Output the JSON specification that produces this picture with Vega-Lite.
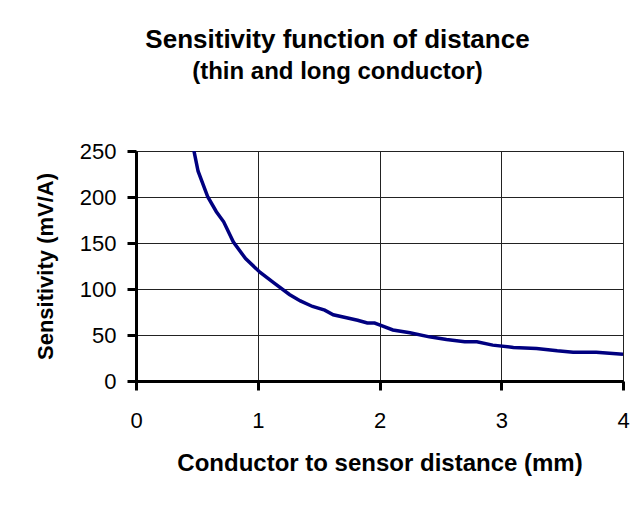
{
  "$schema": "https://vega.github.io/schema/vega-lite/v6.json",
  "autosize": {"type": "none"},
  "padding": {"left": 136, "top": 151, "right": 21, "bottom": 126},
  "width": 487,
  "height": 230,
  "background": "white",
  "title": {
    "text": "Sensitivity function of distance",
    "subtitle": "(thin and long conductor)",
    "anchor": "middle",
    "frame": "group",
    "dx": -42,
    "offset": 56,
    "font": "Liberation Sans",
    "fontSize": 26,
    "fontWeight": "bold",
    "color": "#000",
    "subtitleFont": "Liberation Sans",
    "subtitleFontSize": 24,
    "subtitleFontWeight": "bold",
    "subtitleColor": "#000",
    "subtitlePadding": 7
  },
  "data": {
    "values": [
      {"d": 0.476, "s": 250},
      {"d": 0.51, "s": 228},
      {"d": 0.59, "s": 200},
      {"d": 0.66, "s": 184},
      {"d": 0.72, "s": 173},
      {"d": 0.80, "s": 151},
      {"d": 0.90, "s": 133},
      {"d": 1.02, "s": 118},
      {"d": 1.13, "s": 107},
      {"d": 1.26, "s": 94},
      {"d": 1.35, "s": 87},
      {"d": 1.45, "s": 81},
      {"d": 1.55, "s": 77},
      {"d": 1.62, "s": 72},
      {"d": 1.72, "s": 69},
      {"d": 1.82, "s": 66},
      {"d": 1.90, "s": 63},
      {"d": 1.96, "s": 63},
      {"d": 2.00, "s": 61},
      {"d": 2.11, "s": 55.5},
      {"d": 2.25, "s": 52.5},
      {"d": 2.41, "s": 48},
      {"d": 2.55, "s": 45},
      {"d": 2.70, "s": 42.6},
      {"d": 2.80, "s": 42.6},
      {"d": 2.93, "s": 39},
      {"d": 3.10, "s": 36.5},
      {"d": 3.29, "s": 35.3},
      {"d": 3.46, "s": 32.8},
      {"d": 3.59, "s": 31.3},
      {"d": 3.78, "s": 31.3},
      {"d": 4.00, "s": 29.2}
    ]
  },
  "mark": {"type": "line", "color": "#000080", "strokeWidth": 3.5, "clip": true},
  "encoding": {
    "x": {
      "field": "d",
      "type": "quantitative",
      "scale": {"domain": [0, 4], "nice": false},
      "axis": {
        "title": "Conductor to sensor distance (mm)",
        "values": [0, 1, 2, 3, 4],
        "format": "d",
        "grid": true,
        "gridColor": "#222",
        "gridWidth": 1,
        "gridOpacity": 1,
        "domainColor": "#000",
        "domainWidth": 3,
        "tickColor": "#000",
        "tickWidth": 3,
        "tickSize": 9,
        "labelFont": "Liberation Sans",
        "labelFontSize": 22,
        "labelColor": "#000",
        "labelPadding": 20,
        "labelFlush": false,
        "titleFont": "Liberation Sans",
        "titleFontSize": 24,
        "titleFontWeight": "bold",
        "titleColor": "#000",
        "titlePadding": 20
      }
    },
    "y": {
      "field": "s",
      "type": "quantitative",
      "scale": {"domain": [0, 250], "nice": false},
      "axis": {
        "title": "Sensitivity (mV/A)",
        "values": [0, 50, 100, 150, 200, 250],
        "grid": true,
        "gridColor": "#222",
        "gridWidth": 1,
        "gridOpacity": 1,
        "domainColor": "#000",
        "domainWidth": 3,
        "tickColor": "#000",
        "tickWidth": 3,
        "tickSize": 9,
        "labelFont": "Liberation Sans",
        "labelFontSize": 22,
        "labelColor": "#000",
        "labelPadding": 11,
        "labelFlush": false,
        "titleFont": "Liberation Sans",
        "titleFontSize": 22,
        "titleFontWeight": "bold",
        "titleColor": "#000",
        "titlePadding": 22
      }
    }
  },
  "config": {
    "view": {"stroke": "#222", "strokeWidth": 1}
  }
}
